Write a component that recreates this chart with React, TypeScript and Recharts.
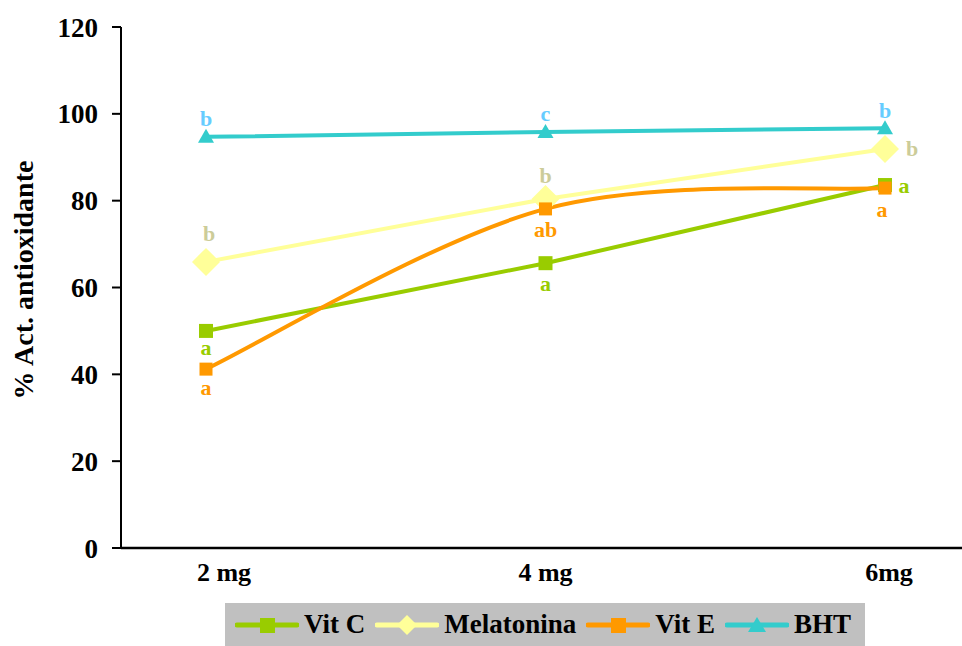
import React from 'react';
import { LineChart, Line, XAxis, YAxis, LabelList, Label } from 'recharts';

// dose categories and mean % antioxidant activity per treatment
const categories = ['2 mg', '4 mg', '6mg'];
const vitC = [50.0, 65.6, 83.6];
const melatonina = [65.9, 80.4, 91.9];
const vitE = [41.2, 78.1, 82.9];
const bht = [94.7, 95.8, 96.7];

// significance letters
const vitCLetters = ['a', 'a', 'a'];
const melatoninaLetters = ['b', 'b', 'b'];
const vitELetters = ['a', 'ab', 'a'];
const bhtLetters = ['b', 'c', 'b'];

const yTicks = [0, 20, 40, 60, 80, 100, 120];

const data = categories.map((dose, i) => ({
  dose,
  vitC: vitC[i],
  melatonina: melatonina[i],
  vitE: vitE[i],
  bht: bht[i],
  vitCLetter: vitCLetters[i],
  melatoninaLetter: melatoninaLetters[i],
  vitELetter: vitELetters[i],
  bhtLetter: bhtLetters[i],
}));

const FONT = '"Liberation Serif", "Times New Roman", serif';

const COLORS = {
  vitC: '#99CC00',
  melatonina: '#FFFF99',
  vitE: '#FF9900',
  bht: '#33CCCC',
};

// Excel-like smoothed line (Catmull-Rom style bezier, 1/6 tangents)
const excelSmooth = (context: any) => {
  let pts: number[][] = [];
  return {
    areaStart() {},
    areaEnd() {},
    lineStart() {
      pts = [];
    },
    point(x: number, y: number) {
      pts.push([+x, +y]);
    },
    lineEnd() {
      const n = pts.length;
      if (!n) return;
      context.moveTo(pts[0][0], pts[0][1]);
      for (let i = 0; i < n - 1; i++) {
        const p0 = pts[Math.max(i - 1, 0)];
        const p1 = pts[i];
        const p2 = pts[i + 1];
        const p3 = pts[Math.min(i + 2, n - 1)];
        context.bezierCurveTo(
          p1[0] + (p2[0] - p0[0]) / 6,
          p1[1] + (p2[1] - p0[1]) / 6,
          p2[0] - (p3[0] - p1[0]) / 6,
          p2[1] - (p3[1] - p1[1]) / 6,
          p2[0],
          p2[1]
        );
      }
    },
  };
};

// offsets of the letters relative to each point
const letterOffsets: { [k: string]: { dx: number; dy: number }[] } = {
  vitC: [{ dx: 0, dy: 17 }, { dx: 0, dy: 20 }, { dx: 19, dy: 0 }],
  melatonina: [{ dx: 3, dy: -28 }, { dx: 0, dy: -23 }, { dx: 27, dy: -1 }],
  vitE: [{ dx: 0, dy: 18 }, { dx: 0, dy: 21 }, { dx: -3, dy: 21 }],
  bht: [{ dx: 0, dy: -18 }, { dx: 0, dy: -19 }, { dx: 0, dy: -18 }],
};

const letterColors: { [k: string]: string } = {
  vitC: '#99CC00',
  melatonina: '#CCCC99',
  vitE: '#FF9900',
  bht: '#66CCFF',
};

const renderLetter = (key: string) => (props: any) => {
  const { x, y, value, index } = props;
  const off = letterOffsets[key][index] || { dx: 0, dy: 0 };
  return (
    <text
      key={`${key}-l-${index}`}
      x={x + off.dx}
      y={y + off.dy}
      textAnchor="middle"
      dominantBaseline="central"
      fontFamily={FONT}
      fontWeight="bold"
      fontSize={22}
      fill={letterColors[key]}
    >
      {value}
    </text>
  );
};

const squareDot = (color: string, size: number) => (props: any) => {
  const { cx, cy, index } = props;
  return <rect key={`sq-${color}-${index}`} x={cx - size / 2} y={cy - size / 2} width={size} height={size} fill={color} />;
};

const diamondDot = (color: string, r: number) => (props: any) => {
  const { cx, cy, index } = props;
  return (
    <polygon
      key={`dm-${index}`}
      points={`${cx},${cy - r} ${cx + r},${cy} ${cx},${cy + r} ${cx - r},${cy}`}
      fill={color}
    />
  );
};

const triangleDot = (color: string) => (props: any) => {
  const { cx, cy, index } = props;
  return (
    <polygon
      key={`tr-${index}`}
      points={`${cx},${cy - 8} ${cx + 8},${cy + 6} ${cx - 8},${cy + 6}`}
      fill={color}
    />
  );
};

const XTick = (props: any) => {
  const { x, payload, index } = props;
  const shift = index === 0 ? 18 : index === 2 ? 4 : 0;
  return (
    <text
      x={x + shift}
      y={572}
      textAnchor="middle"
      dominantBaseline="central"
      fontFamily={FONT}
      fontWeight="bold"
      fontSize={26}
      fill="#000"
    >
      {payload.value}
    </text>
  );
};

const LegendIcon = ({ color, shape }: { color: string; shape: string }) => (
  <svg width={64} height={22} style={{ display: 'block' }}>
    <line x1={2} y1={11} x2={62} y2={11} stroke={color} strokeWidth={5} strokeLinecap="round" />
    {shape === 'square' && <rect x={25} y={4} width={15} height={15} fill={color} />}
    {shape === 'diamond' && <polygon points="32,1 42,11 32,21 22,11" fill={color} />}
    {shape === 'triangle' && <polygon points="32,3 41,18 23,18" fill={color} />}
  </svg>
);

const legendItems = [
  { name: 'Vit C', color: COLORS.vitC, shape: 'square' },
  { name: 'Melatonina', color: COLORS.melatonina, shape: 'diamond' },
  { name: 'Vit E', color: COLORS.vitE, shape: 'square' },
  { name: 'BHT', color: COLORS.bht, shape: 'triangle' },
];

export default function App() {
  return (
    <div style={{ position: 'absolute', left: 0, top: 0, width: 962, height: 646, background: '#fff' }}>
      <LineChart width={962} height={646} data={data} margin={{ top: 27, right: 0, left: 0, bottom: 0 }}>
        <XAxis
          dataKey="dose"
          height={98}
          padding={{ left: 85, right: 77 }}
          tickLine={false}
          axisLine={{ stroke: '#000', strokeWidth: 2.5 }}
          tick={<XTick />}
          interval={0}
        />
        <YAxis
          domain={[0, 120]}
          ticks={yTicks}
          width={121}
          tickSize={9}
          tickMargin={14}
          interval={0}
          axisLine={{ stroke: '#000', strokeWidth: 2 }}
          tickLine={{ stroke: '#000', strokeWidth: 2 }}
          tick={{ fontFamily: FONT, fontWeight: 'bold', fontSize: 27, fill: '#000' }}
        >
          <Label
            content={() => (
              <text
                x={23}
                y={280}
                transform="rotate(-90 23 280)"
                textAnchor="middle"
                dominantBaseline="central"
                fontFamily={FONT}
                fontWeight="bold"
                fontSize={28}
                fill="#000"
              >
                % Act. antioxidante
              </text>
            )}
          />
        </YAxis>
        <Line
          type="linear"
          dataKey="vitC"
          name="Vit C"
          stroke={COLORS.vitC}
          strokeWidth={4}
          dot={squareDot(COLORS.vitC, 14)}
          isAnimationActive={false}
        >
          <LabelList dataKey="vitCLetter" content={renderLetter('vitC')} />
        </Line>
        <Line
          type="linear"
          dataKey="melatonina"
          name="Melatonina"
          stroke={COLORS.melatonina}
          strokeWidth={4}
          dot={diamondDot(COLORS.melatonina, 14)}
          isAnimationActive={false}
        >
          <LabelList dataKey="melatoninaLetter" content={renderLetter('melatonina')} />
        </Line>
        <Line
          type={excelSmooth as any}
          dataKey="vitE"
          name="Vit E"
          stroke={COLORS.vitE}
          strokeWidth={4}
          dot={squareDot(COLORS.vitE, 13)}
          isAnimationActive={false}
        >
          <LabelList dataKey="vitELetter" content={renderLetter('vitE')} />
        </Line>
        <Line
          type="linear"
          dataKey="bht"
          name="BHT"
          stroke={COLORS.bht}
          strokeWidth={4}
          dot={triangleDot(COLORS.bht)}
          isAnimationActive={false}
        >
          <LabelList dataKey="bhtLetter" content={renderLetter('bht')} />
        </Line>
      </LineChart>
      <div
        style={{
          position: 'absolute',
          left: 225,
          top: 603,
          width: 640,
          height: 43,
          boxSizing: 'border-box',
          paddingLeft: 10,
          background: '#C0C0C0',
          display: 'flex',
          alignItems: 'center',
          justifyContent: 'flex-start',
          gap: 10,
          fontFamily: FONT,
          fontWeight: 'bold',
          fontSize: 27,
          color: '#000',
        }}
      >
        {legendItems.map((item) => (
          <div key={item.name} style={{ display: 'flex', alignItems: 'center', gap: 5 }}>
            <LegendIcon color={item.color} shape={item.shape} />
            <span>{item.name}</span>
          </div>
        ))}
      </div>
    </div>
  );
}
